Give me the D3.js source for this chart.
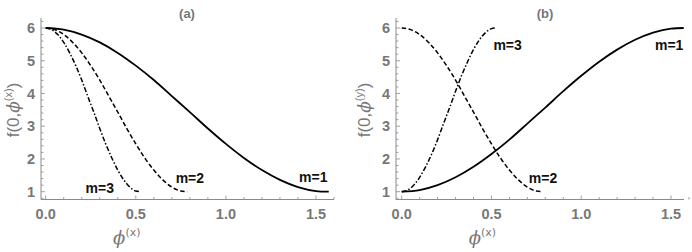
<!DOCTYPE html>
<html><head><meta charset="utf-8">
<script src="https://cdn.jsdelivr.net/npm/d3@7"></script>
<style>
body{margin:0;background:#fff;}
text{font-family:"Liberation Sans",Arial,sans-serif;}
</style></head>
<body><svg id="c" width="692" height="252"></svg>
<script>
// Panel (a): f(0, phi^(x))
const xA1 = [0,0.1,0.2,0.3,0.4,0.5,0.6,0.7,0.8,0.9,1.0,1.1,1.2,1.3,1.4,1.5,1.5708];
const yA1 = [6,5.95,5.80,5.56,5.24,4.85,4.41,3.92,3.43,2.93,2.46,2.03,1.66,1.36,1.14,1.02,1.00];
const xA2 = [0,0.05,0.1,0.15,0.2,0.25,0.3,0.35,0.4,0.45,0.5,0.55,0.6,0.65,0.7,0.75,0.7854];
const yA2 = [6,5.95,5.80,5.56,5.24,4.85,4.41,3.92,3.43,2.93,2.46,2.03,1.66,1.36,1.14,1.02,1.00];
const xA3 = [0,0.033,0.067,0.1,0.133,0.167,0.2,0.233,0.267,0.3,0.333,0.367,0.4,0.433,0.467,0.5,0.5236];
const yA3 = [6,5.95,5.80,5.56,5.24,4.85,4.41,3.92,3.43,2.93,2.46,2.03,1.66,1.36,1.14,1.02,1.00];
// Panel (b): f(0, phi^(y))
const xB1 = xA1;
const yB1 = [1,1.05,1.20,1.44,1.76,2.15,2.59,3.08,3.57,4.07,4.54,4.97,5.34,5.64,5.86,5.98,6.00];
const xB2 = xA2;
const yB2 = [6,5.95,5.80,5.56,5.24,4.85,4.41,3.92,3.43,2.93,2.46,2.03,1.66,1.36,1.14,1.02,1.00];
const xB3 = xA3;
const yB3 = [1,1.05,1.20,1.44,1.76,2.15,2.59,3.08,3.57,4.07,4.54,4.97,5.34,5.64,5.86,5.98,6.00];

const xTicks = [0,0.5,1.0,1.5];
const xTickLabels = ["0.0","0.5","1.0","1.5"];
const yTicks = [1,2,3,4,5,6];
const curveLabels = ["m=1","m=2","m=3"];
const titles = ["(a)","(b)"];
const yLabelVars = ["x","y"];

const svg = d3.select("#c");
const gray = "#8a8a8a", labGray = "#777";

const panels = [
  {x0:45.7, x15:316, axX:41, right:334, title:titles[0], yv:yLabelVars[0], ylx:19, tx:187,
   series:[[xA1,yA1,"solid"],[xA2,yA2,"dash"],[xA3,yA3,"dashdot"]],
   labels:[[curveLabels[0],1.485,1.30],[curveLabels[1],0.80,1.27],[curveLabels[2],0.30,0.97]]},
  {x0:401.7, x15:671, axX:396, right:684, title:titles[1], yv:yLabelVars[1], ylx:370, tx:545,
   series:[[xB1,yB1,"solid"],[xB2,yB2,"dash"],[xB3,yB3,"dashdot"]],
   labels:[[curveLabels[0],1.49,5.33],[curveLabels[1],0.787,1.27],[curveLabels[2],0.59,5.33]]}
];

const dashes = {solid:null, dash:"4.5,2.5", dashdot:"5,2,1.5,2"};
const widths = {solid:1.8, dash:1.5, dashdot:1.5};

panels.forEach((p,pi)=>{
  const x = d3.scaleLinear().domain([0,1.5]).range([p.x0,p.x15]);
  const y = d3.scaleLinear().domain([1,6]).range([191.7,28]);
  const yAxisY = 199.5;
  const g = svg.append("g");
  g.append("line").attr("x1",p.axX).attr("x2",p.right).attr("y1",yAxisY).attr("y2",yAxisY)
    .attr("stroke",gray).attr("stroke-width",1);
  g.append("line").attr("x1",p.axX).attr("x2",p.axX).attr("y1",yAxisY).attr("y2",18)
    .attr("stroke",gray).attr("stroke-width",1);
  const xMinor = d3.range(0,1.61,0.1);
  xMinor.forEach(v=>{
    const major = Math.abs(v/0.5-Math.round(v/0.5))<1e-6;
    g.append("line").attr("x1",x(v)).attr("x2",x(v)).attr("y1",yAxisY).attr("y2",yAxisY-(major?4:2.5))
      .attr("stroke",gray).attr("stroke-width",0.8);
  });
  xTicks.forEach((v,i)=>{
    g.append("text").attr("x",x(v)).attr("y",219).attr("text-anchor","middle")
      .attr("font-size",14.5).attr("font-weight","bold").attr("fill",labGray).text(xTickLabels[i]);
  });
  const yMinor = d3.range(0.8,6.3,0.2);
  yMinor.forEach(v=>{
    const major = Math.abs(v-Math.round(v))<1e-6;
    if (y(v) > yAxisY || y(v) < 18) return;
    g.append("line").attr("x1",p.axX).attr("x2",p.axX+(major?4:2.5)).attr("y1",y(v)).attr("y2",y(v))
      .attr("stroke",gray).attr("stroke-width",0.8);
  });
  yTicks.forEach(v=>{
    g.append("text").attr("x",p.axX-6).attr("y",y(v)+5.2).attr("text-anchor","end")
      .attr("font-size",14.5).attr("font-weight","bold").attr("fill",labGray).text(v);
  });
  const line = d3.line().x(d=>x(d[0])).y(d=>y(d[1])).curve(d3.curveMonotoneX);
  p.series.forEach(s=>{
    const pts = s[0].map((xv,i)=>[xv,s[1][i]]);
    g.append("path").attr("d",line(pts)).attr("fill","none").attr("stroke","#000")
      .attr("stroke-width",widths[s[2]]).attr("stroke-dasharray",dashes[s[2]]);
  });
  p.labels.forEach(l=>{
    g.append("text").attr("x",x(l[1])).attr("y",y(l[2])).attr("text-anchor","middle")
      .attr("font-size",14).attr("font-weight","bold").attr("fill","#111").text(l[0]);
  });
  g.append("text").attr("x",p.tx).attr("y",18).attr("text-anchor","middle")
    .attr("font-size",13).attr("font-weight","bold").attr("fill",labGray).text(p.title);
  const xl = g.append("text").attr("x",x(0.5)-9).attr("y",244).attr("text-anchor","middle")
    .attr("fill",labGray);
  xl.append("tspan").attr("font-size",18).attr("font-style","italic").attr("font-family","DejaVu Serif").text("ϕ");
  xl.append("tspan").attr("font-size",11).attr("dy",-8).attr("font-family","DejaVu Sans").text("(x)");
  const yl = g.append("text").attr("transform",`translate(${p.ylx},110) rotate(-90)`)
    .attr("text-anchor","middle").attr("fill",labGray).attr("font-size",17);
  yl.append("tspan").text("f(0,");
  yl.append("tspan").attr("font-style","italic").attr("font-family","DejaVu Serif").text("ϕ");
  yl.append("tspan").attr("font-size",11).attr("dy",-7).text("("+p.yv+")");
  yl.append("tspan").attr("dy",7).text(")");
});
</script></body></html>
